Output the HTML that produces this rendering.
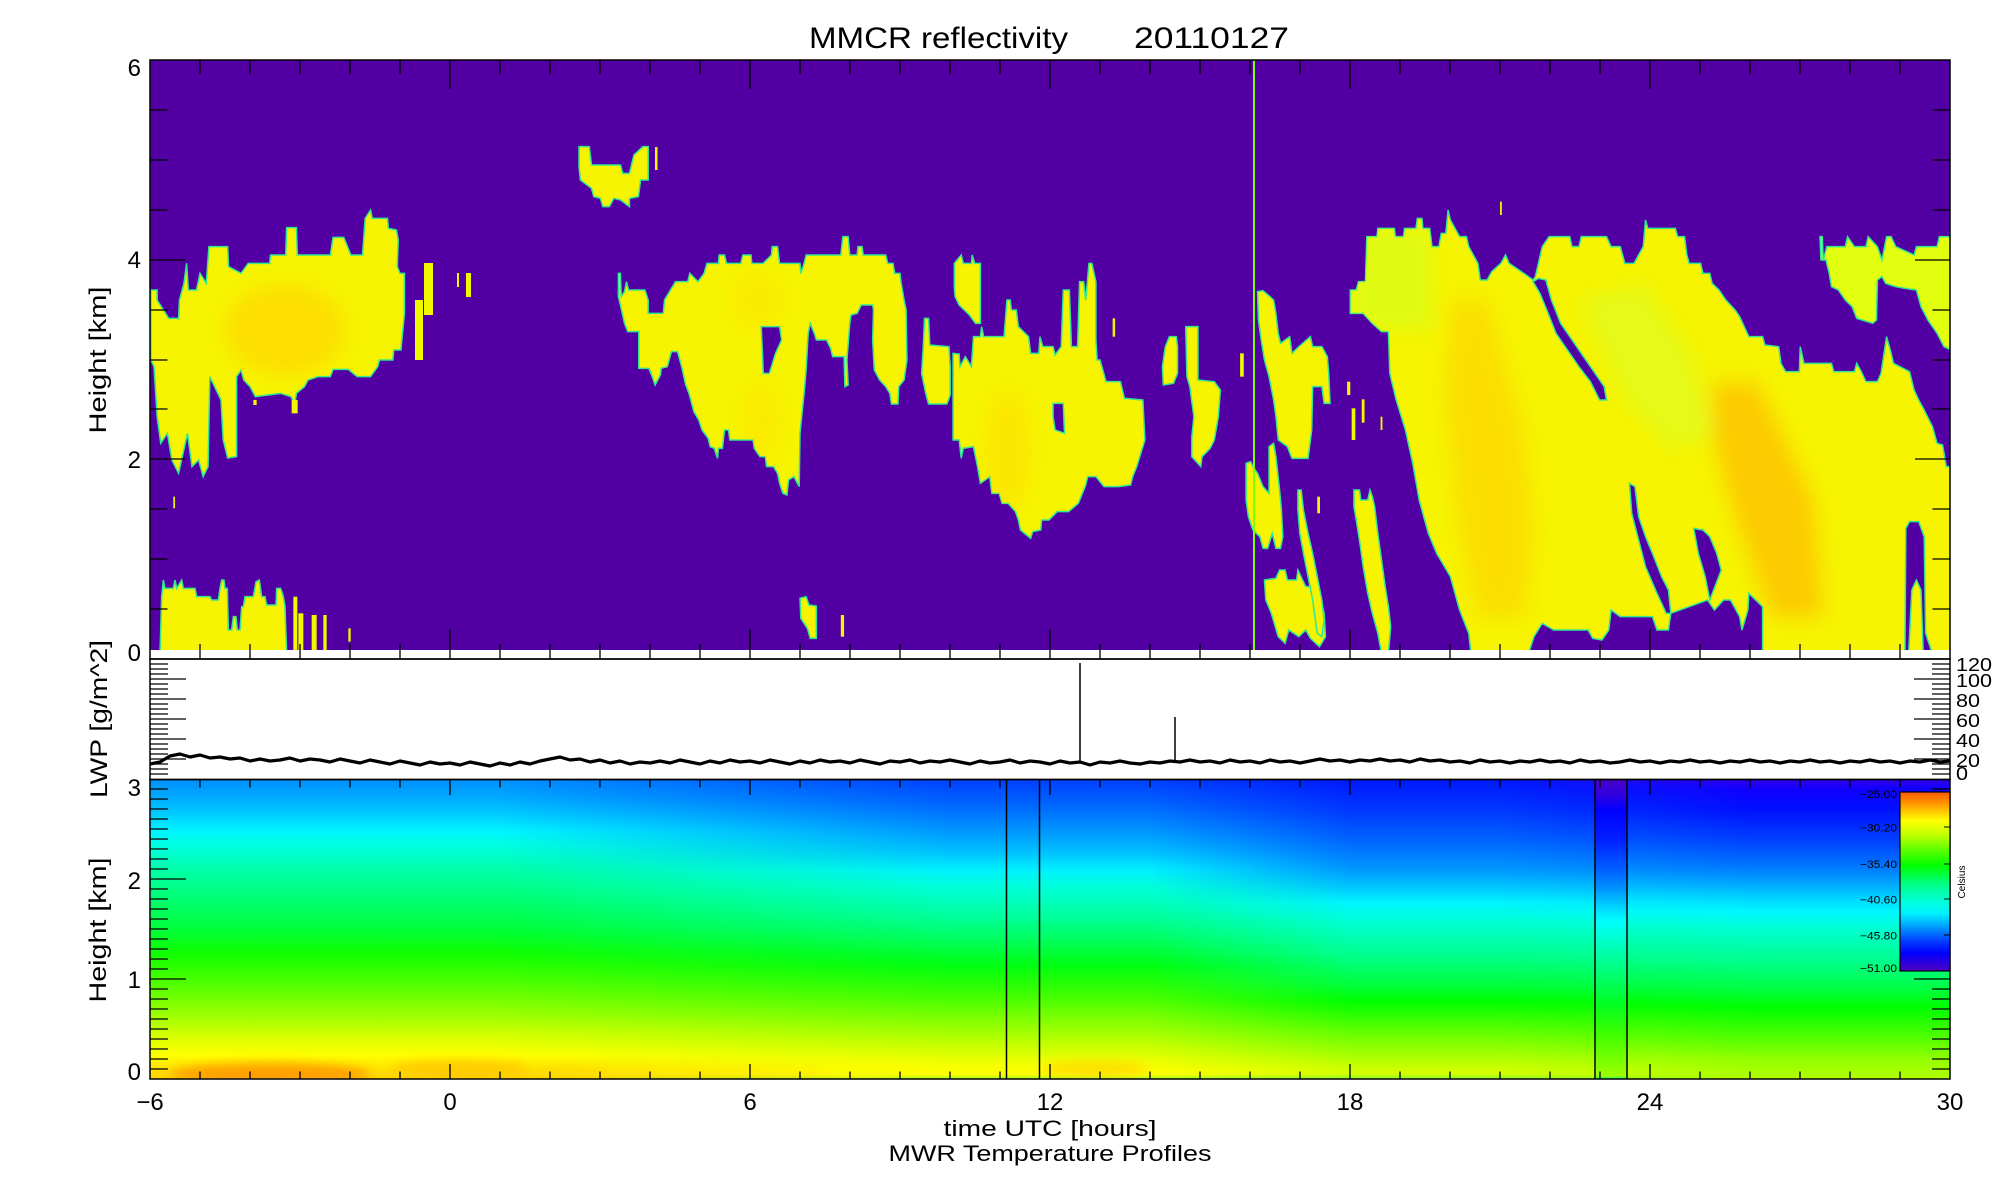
<!DOCTYPE html>
<html><head><meta charset="utf-8"><style>html,body{margin:0;padding:0;background:#fff}svg{display:block}text{font-family:"Liberation Sans",sans-serif;fill:#000}</style></head><body>
<svg xmlns="http://www.w3.org/2000/svg" xmlns:xlink="http://www.w3.org/1999/xlink" width="2000" height="1200" viewBox="0 0 2000 1200">
<defs>
<clipPath id="mclip"><rect x="150" y="60" width="1800" height="590"/></clipPath>
<clipPath id="tclip"><rect x="150" y="780" width="1800" height="299"/></clipPath>
<filter id="bl" x="-50%" y="-50%" width="200%" height="200%"><feGaussianBlur stdDeviation="10"/></filter>
<filter id="bl2" x="-50%" y="-50%" width="200%" height="200%"><feGaussianBlur stdDeviation="5"/></filter>
<polygon id="cA" vector-effect="non-scaling-stroke" transform="scale(0.44643,0.33333)" points="338,870 352,870 352,900 378,955 400,955 402,900 412,850 418,790 422,870 440,870 448,820 462,850 468,740 510,740 512,800 540,820 556,790 604,790 606,765 640,765 642,683 664,683 666,765 740,765 746,712 770,712 786,765 812,765 818,655 830,630 834,655 868,655 870,685 888,690 892,720 890,800 896,820 906,820 906,940 898,1050 882,1050 880,1080 850,1080 846,1100 830,1130 800,1130 780,1108 746,1108 740,1130 712,1130 690,1140 682,1160 664,1180 660,1215 652,1190 628,1180 572,1190 560,1160 546,1140 540,1110 530,1130 530,1370 510,1374 500,1320 495,1200 470,1130 466,1400 455,1430 445,1380 430,1400 420,1300 400,1420 385,1380 375,1300 360,1330 352,1250 345,1100 338,1080"/>
<polygon id="cB" vector-effect="non-scaling-stroke" transform="scale(0.44643,0.33333)" points="1297,440 1320,440 1325,495 1390,495 1395,520 1410,520 1420,465 1440,440 1452,440 1452,540 1435,540 1430,590 1410,595 1410,620 1390,600 1375,595 1365,620 1350,620 1345,595 1330,590 1325,565 1300,540 1297,500"/>
<polygon id="cL" vector-effect="non-scaling-stroke" transform="translate(150,400) scale(0.33333,0.33333)" points="35,590 40,540 45,565 70,565 75,540 80,565 95,540 100,565 135,565 140,590 180,590 185,600 205,600 210,565 215,540 222,540 225,565 232,565 235,690 245,690 250,650 258,650 262,690 270,690 275,620 280,620 285,590 310,590 318,545 328,540 335,590 345,590 350,615 378,615 380,565 392,565 400,590 405,620 410,760 30,760"/>
<polygon id="cC" vector-effect="non-scaling-stroke" transform="translate(600,200) scale(0.40816,0.33333)" points="45,220 50,220 52,290 60,275 65,245 70,270 110,270 118,300 118,340 155,340 158,300 185,245 215,245 220,220 240,245 255,220 262,190 290,190 292,165 305,165 310,190 345,190 350,165 370,165 372,190 400,190 420,165 422,140 435,140 440,190 490,190 492,220 500,190 505,165 590,165 595,110 608,110 612,165 630,165 632,140 642,140 645,165 700,165 705,190 718,190 722,220 735,220 738,250 745,300 750,330 752,480 745,540 732,560 730,612 714,612 710,580 700,560 685,540 672,510 668,420 670,330 668,315 640,315 630,340 615,345 612,370 605,480 608,555 600,560 598,470 570,470 565,445 555,420 530,420 525,400 515,370 510,400 505,510 500,580 495,640 490,700 488,860 475,830 462,840 458,885 448,880 440,850 435,820 425,800 408,800 405,770 392,770 378,745 375,720 318,720 315,690 305,690 300,745 290,745 288,775 280,745 270,740 265,715 250,690 242,660 230,635 218,580 210,555 200,500 190,455 175,455 165,500 150,505 148,525 135,555 128,530 120,505 95,505 95,395 68,395 60,370 50,315 45,290"/>
<polygon id="cD" vector-effect="non-scaling-stroke" transform="translate(600,200) scale(0.40816,0.33333)" points="865,460 880,462 882,500 895,470 910,500 915,410 932,410 935,380 940,410 990,410 997,300 1005,300 1008,330 1020,330 1025,380 1050,410 1055,460 1075,460 1078,410 1085,440 1110,440 1115,465 1130,440 1135,270 1150,270 1155,440 1170,440 1175,245 1185,245 1190,300 1198,190 1205,190 1215,245 1215,420 1218,480 1225,480 1240,545 1275,545 1285,595 1330,600 1335,720 1325,760 1315,800 1305,830 1300,855 1270,860 1235,860 1215,830 1195,830 1190,855 1172,910 1148,935 1120,935 1100,960 1082,960 1080,990 1060,995 1055,1015 1030,990 1025,960 1018,935 1000,910 985,910 978,880 960,880 955,830 932,850 925,800 915,740 890,745 885,775 880,720 865,720"/>
<polygon id="cF" vector-effect="non-scaling-stroke" transform="translate(1230,200) scale(0.45914,0.33333)" points="262,340 262,270 275,270 280,245 295,245 298,110 320,110 322,85 358,85 360,110 378,110 380,85 405,85 408,55 418,55 420,85 435,85 440,140 455,140 460,100 470,100 475,30 480,60 500,110 515,110 520,140 540,190 545,240 560,240 570,215 590,190 600,165 608,190 640,220 660,240 665,230 680,140 695,110 740,110 745,140 760,140 765,110 820,110 830,140 850,140 860,190 880,190 900,140 905,60 910,85 970,85 975,110 990,110 995,165 1000,190 1025,190 1030,220 1045,220 1050,250 1065,270 1080,300 1100,330 1110,350 1130,410 1160,410 1165,435 1195,440 1200,490 1210,515 1240,515 1242,440 1250,490 1310,490 1315,515 1360,515 1365,490 1375,515 1385,545 1410,545 1418,520 1430,410 1440,460 1445,490 1480,515 1490,570 1500,600 1510,625 1530,680 1540,730 1552,735 1560,800 1570,800 1570,1360 525,1360 520,1300 500,1230 480,1130 450,1060 432,1000 412,900 398,790 382,690 362,600 348,520 345,395 330,395 310,370 290,340"/>
<clipPath id="clA"><use xlink:href="#cA"/></clipPath>
<clipPath id="clC"><use xlink:href="#cC"/></clipPath>
<clipPath id="clD"><use xlink:href="#cD"/></clipPath>
<clipPath id="clF"><use xlink:href="#cF"/></clipPath>
<linearGradient id="P1" gradientUnits="userSpaceOnUse" x1="0" y1="780" x2="0" y2="1079">
<stop offset="0" stop-color="#0090ff"/><stop offset="0.06" stop-color="#00aaff"/><stop offset="0.12" stop-color="#00d0ff"/><stop offset="0.17" stop-color="#00f4ff"/><stop offset="0.22" stop-color="#00ffe0"/><stop offset="0.30" stop-color="#00ffa8"/><stop offset="0.40" stop-color="#00ff70"/><stop offset="0.50" stop-color="#00ff38"/><stop offset="0.58" stop-color="#10ff00"/><stop offset="0.68" stop-color="#50ff00"/><stop offset="0.78" stop-color="#98ff00"/><stop offset="0.86" stop-color="#d8ff00"/><stop offset="0.92" stop-color="#ffff00"/><stop offset="0.97" stop-color="#ffe000"/><stop offset="1" stop-color="#ffd000"/></linearGradient>
<linearGradient id="P2" gradientUnits="userSpaceOnUse" x1="0" y1="780" x2="0" y2="1079">
<stop offset="0" stop-color="#0040ff"/><stop offset="0.08" stop-color="#0064ff"/><stop offset="0.16" stop-color="#0090ff"/><stop offset="0.24" stop-color="#00c0ff"/><stop offset="0.30" stop-color="#00f0ff"/><stop offset="0.36" stop-color="#00ffd8"/><stop offset="0.45" stop-color="#00ffa0"/><stop offset="0.54" stop-color="#00ff58"/><stop offset="0.62" stop-color="#00ff10"/><stop offset="0.72" stop-color="#40ff00"/><stop offset="0.82" stop-color="#90ff00"/><stop offset="0.90" stop-color="#d0ff00"/><stop offset="0.95" stop-color="#f4ff00"/><stop offset="0.985" stop-color="#ffff00"/><stop offset="1" stop-color="#a0ff20"/></linearGradient>
<linearGradient id="P3" gradientUnits="userSpaceOnUse" x1="0" y1="780" x2="0" y2="1079">
<stop offset="0" stop-color="#0018ff"/><stop offset="0.1" stop-color="#0038ff"/><stop offset="0.2" stop-color="#0064ff"/><stop offset="0.3" stop-color="#0098ff"/><stop offset="0.36" stop-color="#00c8ff"/><stop offset="0.41" stop-color="#00f4ff"/><stop offset="0.48" stop-color="#00ffd0"/><stop offset="0.58" stop-color="#00ff90"/><stop offset="0.68" stop-color="#00ff40"/><stop offset="0.74" stop-color="#00ff00"/><stop offset="0.84" stop-color="#60ff00"/><stop offset="0.93" stop-color="#b0ff00"/><stop offset="0.98" stop-color="#d8ff00"/><stop offset="1" stop-color="#90ff20"/></linearGradient>
<linearGradient id="P4" gradientUnits="userSpaceOnUse" x1="0" y1="780" x2="0" y2="1079">
<stop offset="0" stop-color="#3000f0"/><stop offset="0.03" stop-color="#1000ff"/><stop offset="0.1" stop-color="#0010ff"/><stop offset="0.2" stop-color="#0040ff"/><stop offset="0.28" stop-color="#0070ff"/><stop offset="0.34" stop-color="#00a0ff"/><stop offset="0.39" stop-color="#00d0ff"/><stop offset="0.44" stop-color="#00f8ff"/><stop offset="0.5" stop-color="#00ffd0"/><stop offset="0.6" stop-color="#00ff90"/><stop offset="0.7" stop-color="#00ff40"/><stop offset="0.76" stop-color="#00ff00"/><stop offset="0.86" stop-color="#50ff00"/><stop offset="0.94" stop-color="#98ff00"/><stop offset="1" stop-color="#b0ff00"/></linearGradient>
<linearGradient id="P5" gradientUnits="userSpaceOnUse" x1="0" y1="780" x2="0" y2="1079">
<stop offset="0" stop-color="#4800c8"/><stop offset="0.05" stop-color="#3000e0"/><stop offset="0.1" stop-color="#0000ff"/><stop offset="0.2" stop-color="#0020ff"/><stop offset="0.3" stop-color="#0060ff"/><stop offset="0.36" stop-color="#0090ff"/><stop offset="0.42" stop-color="#00d0ff"/><stop offset="0.47" stop-color="#00ffff"/><stop offset="0.55" stop-color="#00ffc0"/><stop offset="0.65" stop-color="#00ff70"/><stop offset="0.75" stop-color="#00ff20"/><stop offset="0.85" stop-color="#40ff00"/><stop offset="0.95" stop-color="#80ff00"/><stop offset="0.99" stop-color="#a0ff00"/><stop offset="1" stop-color="#00ff80"/></linearGradient>
<linearGradient id="g2" gradientUnits="userSpaceOnUse" x1="500" y1="0" x2="950" y2="0"><stop offset="0" stop-color="#000"/><stop offset="1" stop-color="#fff"/></linearGradient>
<linearGradient id="g3" gradientUnits="userSpaceOnUse" x1="1150" y1="0" x2="1350" y2="0"><stop offset="0" stop-color="#000"/><stop offset="1" stop-color="#fff"/></linearGradient>
<linearGradient id="g4" gradientUnits="userSpaceOnUse" x1="1500" y1="0" x2="1750" y2="0"><stop offset="0" stop-color="#000"/><stop offset="1" stop-color="#fff"/></linearGradient>
<mask id="m2" maskUnits="userSpaceOnUse" x="0" y="0" width="2000" height="1200"><rect x="150" y="780" width="1800" height="300" fill="url(#g2)"/></mask>
<mask id="m3" maskUnits="userSpaceOnUse" x="0" y="0" width="2000" height="1200"><rect x="150" y="780" width="1800" height="300" fill="url(#g3)"/></mask>
<mask id="m4" maskUnits="userSpaceOnUse" x="0" y="0" width="2000" height="1200"><rect x="150" y="780" width="1800" height="300" fill="url(#g4)"/></mask>
<linearGradient id="CB" x1="0" y1="0" x2="0" y2="1">
<stop offset="0" stop-color="#ff5a00"/><stop offset="0.06" stop-color="#ff9000"/><stop offset="0.13" stop-color="#ffe000"/><stop offset="0.16" stop-color="#ffff00"/><stop offset="0.24" stop-color="#c0ff00"/><stop offset="0.32" stop-color="#60ff00"/><stop offset="0.41" stop-color="#00ff00"/><stop offset="0.51" stop-color="#00ff80"/><stop offset="0.62" stop-color="#00ffe0"/><stop offset="0.68" stop-color="#00f0ff"/><stop offset="0.75" stop-color="#00a0ff"/><stop offset="0.83" stop-color="#0040ff"/><stop offset="0.9" stop-color="#0000ff"/><stop offset="1" stop-color="#5000c0"/></linearGradient>
</defs>

<rect x="0" y="0" width="2000" height="1200" fill="#fff"/>

<!-- MMCR panel -->
<g clip-path="url(#mclip)">
<rect x="150" y="60" width="1800" height="590" fill="#5200a3"/>
<g fill="#f6f400" stroke="#30e890" stroke-width="1.5">
<use xlink:href="#cA"/><use xlink:href="#cB"/><use xlink:href="#cL"/><use xlink:href="#cC"/><use xlink:href="#cD"/><use xlink:href="#cF"/>
<g transform="translate(600,200) scale(0.40816,0.33333)">
<polygon vector-effect="non-scaling-stroke" points="868,190 885,165 890,190 910,190 912,165 918,190 932,190 932,370 920,370 905,345 880,315 870,290 868,260"/>
<polygon vector-effect="non-scaling-stroke" points="795,355 805,355 808,435 855,440 858,500 858,585 850,612 805,612 798,580 788,520 792,440"/>
<polygon vector-effect="non-scaling-stroke" points="1378,500 1385,440 1395,410 1412,410 1415,440 1415,520 1405,550 1380,555"/>
<polygon vector-effect="non-scaling-stroke" points="1435,380 1465,380 1465,540 1505,545 1520,570 1515,650 1505,720 1495,745 1475,770 1472,800 1450,770 1450,710 1455,650 1445,560 1438,530"/>
<polygon vector-effect="non-scaling-stroke" points="490,1195 505,1190 512,1215 530,1218 530,1315 515,1315 508,1285 492,1255"/>
</g>
<g transform="translate(1230,200) scale(0.45914,0.33333)">
<polygon vector-effect="non-scaling-stroke" points="60,275 72,272 95,300 100,340 105,400 110,430 130,410 135,460 150,440 175,410 180,440 200,440 212,470 215,520 218,610 205,610 200,560 180,560 178,690 170,775 135,775 125,740 105,720 100,650 95,600 85,530 75,480 68,420 62,360"/>
<polygon vector-effect="non-scaling-stroke" points="35,790 45,785 50,800 60,820 72,860 85,880 85,740 95,730 100,770 108,870 112,930 115,1010 110,1045 100,1045 92,1000 82,1045 72,1045 65,1010 50,990 40,950 35,900"/>
<polygon vector-effect="non-scaling-stroke" points="75,1140 100,1135 108,1110 120,1110 125,1140 145,1140 148,1110 158,1140 165,1160 180,1160 185,1180 198,1200 205,1240 208,1310 195,1340 175,1315 165,1290 150,1310 128,1290 120,1330 105,1310 90,1240 78,1200"/>
<polygon vector-effect="non-scaling-stroke" points="148,870 155,870 160,930 170,1000 180,1060 190,1130 200,1200 205,1260 200,1310 190,1300 180,1200 170,1130 160,1060 152,1000 148,930"/>
<polygon vector-effect="non-scaling-stroke" points="270,870 282,870 285,900 300,900 305,870 310,890 315,920 322,1000 330,1080 338,1160 345,1220 350,1280 345,1360 330,1360 322,1300 310,1240 300,1180 290,1100 283,1030 275,960 270,920"/>
<polygon vector-effect="non-scaling-stroke" fill="#e2ff10" points="1285,110 1290,110 1292,180 1300,140 1340,140 1345,110 1360,140 1385,140 1390,110 1410,140 1420,180 1430,110 1440,110 1450,140 1490,165 1495,140 1540,140 1545,110 1570,110 1570,450 1555,440 1540,400 1520,360 1505,320 1495,270 1470,265 1450,260 1428,250 1420,230 1410,240 1408,360 1400,370 1365,355 1355,320 1340,300 1325,270 1310,260 1305,220 1298,180 1287,180"/>
</g>
</g>
<!-- small streak bits -->
<g fill="#f0f800">
<rect x="415" y="300" width="8" height="60"/><rect x="424" y="263" width="9" height="52"/><rect x="466" y="273" width="5" height="24"/><rect x="457" y="273" width="2" height="14"/><rect x="655" y="147" width="2.5" height="23"/>
<g transform="translate(150,400) scale(0.33333,0.33333)"><rect x="430" y="590" width="12" height="170"/><rect x="445" y="640" width="15" height="120"/><rect x="485" y="645" width="15" height="115"/><rect x="520" y="645" width="10" height="115"/><rect x="595" y="685" width="7" height="40"/><rect x="70" y="290" width="5" height="35"/><rect x="425" y="0" width="18" height="40"/><rect x="310" y="0" width="10" height="15"/></g>
<g transform="translate(600,200) scale(0.40816,0.33333)"><rect x="1256" y="355" width="6" height="55"/><rect x="590" y="1245" width="8" height="65"/></g>
<g transform="translate(1230,200) scale(0.45914,0.33333)"><rect x="255" y="545" width="7" height="40"/><rect x="265" y="625" width="8" height="95"/><rect x="287" y="598" width="6" height="70"/><rect x="328" y="650" width="4" height="40"/><rect x="190" y="890" width="6" height="50"/><rect x="22" y="460" width="8" height="70"/><rect x="588" y="5" width="4" height="40"/></g>
</g>
<!-- tints -->
<g clip-path="url(#clA)"><g filter="url(#bl)"><ellipse cx="285" cy="330" rx="60" ry="45" fill="#ffd400" opacity="0.7"/></g></g>
<g clip-path="url(#clC)"><g filter="url(#bl)"><ellipse cx="757" cy="300" rx="25" ry="28" fill="#ffe000" opacity="0.5"/><ellipse cx="762" cy="420" rx="18" ry="40" fill="#ffe000" opacity="0.5"/></g></g>
<g clip-path="url(#clD)"><g filter="url(#bl)"><ellipse cx="1008" cy="450" rx="22" ry="60" fill="#ffdc00" opacity="0.6"/></g></g>
<g clip-path="url(#clF)"><g filter="url(#bl)"><g transform="translate(1230,200) scale(0.45914,0.33333)">
<polygon points="480,300 560,300 640,700 660,1000 640,1250 540,1250 500,1000 470,600" fill="#ffcc00" opacity="0.55"/>
<polygon points="1050,550 1150,550 1270,900 1290,1250 1180,1250 1100,950 1050,700" fill="#ffb800" opacity="0.7"/>
<polygon points="760,300 900,250 1000,450 1060,700 960,750 860,600" fill="#d8ff30" opacity="0.5"/>
<polygon points="262,85 440,85 440,390 262,390" fill="#d0ff20" opacity="0.6"/>
</g></g></g>
<!-- holes -->
<g fill="#5200a3" stroke="#30e890" stroke-width="1.5">
<g transform="translate(600,200) scale(0.40816,0.33333)">
<polygon vector-effect="non-scaling-stroke" points="395,380 440,380 445,420 430,460 415,520 400,520 398,460"/>
<polygon vector-effect="non-scaling-stroke" points="1110,610 1135,610 1138,700 1115,690 1110,650"/>
</g>
<g transform="translate(1230,200) scale(0.45914,0.33333)">
<polygon vector-effect="non-scaling-stroke" points="660,245 672,235 688,240 700,300 720,370 745,420 770,470 795,520 815,560 820,600 805,600 785,545 760,500 735,450 710,400 690,330 675,280"/>
<polygon vector-effect="non-scaling-stroke" points="870,850 882,860 890,950 905,1010 920,1060 940,1130 955,1170 960,1240 950,1240 930,1180 905,1100 890,1020 875,940"/>
<polygon vector-effect="non-scaling-stroke" points="1010,985 1030,990 1045,1010 1060,1060 1070,1110 1045,1200 1035,1130 1020,1060"/>
<polygon vector-effect="non-scaling-stroke" points="650,1362 662,1310 680,1270 705,1290 780,1290 790,1315 810,1320 825,1290 830,1230 850,1250 920,1250 930,1290 955,1290 960,1240 1040,1200 1055,1230 1075,1200 1090,1200 1110,1250 1115,1290 1128,1230 1130,1180 1160,1220 1160,1362"/>
<polygon vector-effect="non-scaling-stroke" points="1470,1362 1472,985 1480,965 1500,965 1512,1010 1515,1300 1530,1362"/>
<polygon vector-effect="non-scaling-stroke" fill="#f6f400" points="1478,1362 1485,1170 1495,1140 1505,1170 1510,1362"/>
</g>
</g>
<line x1="1254" y1="60" x2="1254" y2="650" stroke="#80ff00" stroke-width="2"/>
</g>

<!-- Temperature panel -->
<g clip-path="url(#tclip)">
<rect x="150" y="780" width="1800" height="300" fill="url(#P1)"/>
<rect x="150" y="780" width="1800" height="300" fill="url(#P2)" mask="url(#m2)"/>
<rect x="150" y="780" width="1800" height="300" fill="url(#P3)" mask="url(#m3)"/>
<rect x="150" y="780" width="1800" height="300" fill="url(#P4)" mask="url(#m4)"/>
<g filter="url(#bl2)">
<ellipse cx="270" cy="1074" rx="100" ry="11" fill="#ff9a00" opacity="0.9"/>
<ellipse cx="460" cy="1069" rx="70" ry="9" fill="#ffc800" opacity="0.85"/>
<ellipse cx="570" cy="1072" rx="40" ry="6" fill="#ffd800" opacity="0.7"/>
<ellipse cx="1095" cy="1069" rx="55" ry="8" fill="#ffd800" opacity="0.8"/>
<ellipse cx="860" cy="1070" rx="40" ry="7" fill="#f8ff00" opacity="0.7"/>
</g>
<rect x="1596" y="780" width="31" height="300" fill="url(#P5)"/>
</g>
<path d="M1006.5 780V1079M1039.5 780V1079M1595 780V1079M1627 780V1079" stroke="#000" stroke-width="1.5" fill="none"/>

<!-- LWP line -->
<polyline fill="none" stroke="#000" stroke-width="3.2" stroke-linejoin="round" points="150,764 160,762 170,756 180,754 190,757 200,755 210,758 220,757 230,759 240,758 250,761 260,759 270,761 280,760 290,758 300,761 310,759 320,760 330,762 340,759 350,761 360,763 370,760 380,762 390,764 400,761 410,763 420,765 430,762 440,764 450,763 460,765 470,762 480,764 490,766 500,763 510,765 520,762 530,764 540,761 550,759 560,757 570,760 580,759 590,762 600,760 610,763 620,761 630,764 640,762 650,763 660,761 670,763 680,760 690,762 700,764 710,761 720,763 730,760 740,762 750,761 760,763 770,760 780,762 790,764 800,761 810,763 820,760 830,762 840,761 850,763 860,760 870,762 880,764 890,761 900,762 910,760 920,763 930,761 940,762 950,760 960,762 970,764 980,761 990,763 1000,762 1010,760 1020,763 1030,761 1040,762 1050,764 1060,761 1070,763 1080,762 1090,765 1100,762 1110,763 1120,761 1130,763 1140,764 1150,762 1160,763 1170,761 1180,762 1190,760 1200,762 1210,761 1220,763 1230,760 1240,762 1250,761 1260,763 1270,760 1280,762 1290,761 1300,763 1310,761 1320,759 1330,761 1340,760 1350,762 1360,760 1370,761 1380,759 1390,761 1400,760 1410,762 1420,759 1430,761 1440,760 1450,762 1460,761 1470,763 1480,760 1490,762 1500,761 1510,763 1520,761 1530,762 1540,760 1550,762 1560,761 1570,763 1580,760 1590,762 1600,761 1610,763 1620,762 1630,760 1640,762 1650,761 1660,763 1670,761 1680,762 1690,760 1700,762 1710,761 1720,763 1730,761 1740,762 1750,760 1760,762 1770,761 1780,763 1790,761 1800,762 1810,760 1820,762 1830,761 1840,763 1850,761 1860,762 1870,760 1880,762 1890,761 1900,763 1910,761 1920,762 1930,760 1940,762 1950,761"/>
<path d="M1080 663V763M1175 717V762" stroke="#000" stroke-width="1.5"/>

<!-- axes frames -->
<g fill="none" stroke="#000" stroke-width="1.5">
<rect x="150" y="60" width="1800" height="599"/>
<rect x="150" y="659" width="1800" height="120.5"/>
<rect x="150" y="779.5" width="1800" height="299.5"/>
</g>
<!-- ticks -->
<g stroke="#000" stroke-width="1.3" fill="none">
<path d="M200 60v14M250 60v14M300 60v14M350 60v14M400 60v14M450 60v29M500 60v14M550 60v14M600 60v14M650 60v14M700 60v14M750 60v29M800 60v14M850 60v14M900 60v14M950 60v14M1000 60v14M1050 60v29M1100 60v14M1150 60v14M1200 60v14M1250 60v14M1300 60v14M1350 60v29M1400 60v14M1450 60v14M1500 60v14M1550 60v14M1600 60v14M1650 60v29M1700 60v14M1750 60v14M1800 60v14M1850 60v14M1900 60v14"/>
<path d="M200 659v-15M250 659v-15M300 659v-15M350 659v-15M400 659v-15M450 659v-30M500 659v-15M550 659v-15M600 659v-15M650 659v-15M700 659v-15M750 659v-30M800 659v-15M850 659v-15M900 659v-15M950 659v-15M1000 659v-15M1050 659v-30M1100 659v-15M1150 659v-15M1200 659v-15M1250 659v-15M1300 659v-15M1350 659v-30M1400 659v-15M1450 659v-15M1500 659v-15M1550 659v-15M1600 659v-15M1650 659v-30M1700 659v-15M1750 659v-15M1800 659v-15M1850 659v-15M1900 659v-15"/>
<path d="M200 780v7.5M250 780v7.5M300 780v7.5M350 780v7.5M400 780v7.5M450 780v15M500 780v7.5M550 780v7.5M600 780v7.5M650 780v7.5M700 780v7.5M750 780v15M800 780v7.5M850 780v7.5M900 780v7.5M950 780v7.5M1000 780v7.5M1050 780v15M1100 780v7.5M1150 780v7.5M1200 780v7.5M1250 780v7.5M1300 780v7.5M1350 780v15M1400 780v7.5M1450 780v7.5M1500 780v7.5M1550 780v7.5M1600 780v7.5M1650 780v15M1700 780v7.5M1750 780v7.5M1800 780v7.5M1850 780v7.5M1900 780v7.5"/>
<path d="M200 1079v-7.5M250 1079v-7.5M300 1079v-7.5M350 1079v-7.5M400 1079v-7.5M450 1079v-15M500 1079v-7.5M550 1079v-7.5M600 1079v-7.5M650 1079v-7.5M700 1079v-7.5M750 1079v-15M800 1079v-7.5M850 1079v-7.5M900 1079v-7.5M950 1079v-7.5M1000 1079v-7.5M1050 1079v-15M1100 1079v-7.5M1150 1079v-7.5M1200 1079v-7.5M1250 1079v-7.5M1300 1079v-7.5M1350 1079v-15M1400 1079v-7.5M1450 1079v-7.5M1500 1079v-7.5M1550 1079v-7.5M1600 1079v-7.5M1650 1079v-15M1700 1079v-7.5M1750 1079v-7.5M1800 1079v-7.5M1850 1079v-7.5M1900 1079v-7.5"/>
<path d="M150 609h17.5M150 559h17.5M150 509h17.5M150 459h35M150 409h17.5M150 360h17.5M150 310h17.5M150 260h35M150 210h17.5M150 160h17.5M150 110h17.5"/>
<path d="M1950 609h-17.5M1950 559h-17.5M1950 509h-17.5M1950 459h-35M1950 409h-17.5M1950 360h-17.5M1950 310h-17.5M1950 260h-35M1950 210h-17.5M1950 160h-17.5M1950 110h-17.5"/>
<path d="M150 774h18M150 769h18M150 764h18M150 759h36M150 754h18M150 749h18M150 744h18M150 739h36M150 734h18M150 729h18M150 724h18M150 719h36M150 714h18M150 709h18M150 704h18M150 699h36M150 694h18M150 689h18M150 684h18M150 679h36M150 674h18M150 669h18M150 664h18"/>
<path d="M1950 774h-18M1950 769h-18M1950 764h-18M1950 759h-36M1950 754h-18M1950 749h-18M1950 744h-18M1950 739h-36M1950 734h-18M1950 729h-18M1950 724h-18M1950 719h-36M1950 714h-18M1950 709h-18M1950 704h-18M1950 699h-36M1950 694h-18M1950 689h-18M1950 684h-18M1950 679h-36M1950 674h-18M1950 669h-18M1950 664h-18"/>
<path d="M150 1069h18M150 1059h18M150 1049h18M150 1039h18M150 1029h18M150 1019h18M150 1009h18M150 999h18M150 989h18M150 979h36M150 969h18M150 959h18M150 949h18M150 939h18M150 929h18M150 919h18M150 909h18M150 899h18M150 889h18M150 879h36M150 869h18M150 859h18M150 849h18M150 839h18M150 829h18M150 819h18M150 809h18M150 799h18M150 789h18"/>
<path d="M1950 1069h-18M1950 1059h-18M1950 1049h-18M1950 1039h-18M1950 1029h-18M1950 1019h-18M1950 1009h-18M1950 999h-18M1950 989h-18M1950 979h-36M1950 969h-18M1950 959h-18M1950 949h-18M1950 939h-18M1950 929h-18M1950 919h-18M1950 909h-18M1950 899h-18M1950 889h-18M1950 879h-36M1950 869h-18M1950 859h-18M1950 849h-18M1950 839h-18M1950 829h-18M1950 819h-18M1950 809h-18M1950 799h-18M1950 789h-18"/>
</g>

<!-- colorbar -->
<rect x="1900" y="792" width="50" height="179" fill="url(#CB)" stroke="#000" stroke-width="1.2"/>
<path d="M1944 827h6M1944 864h6M1944 899h6M1944 935h6" stroke="#000" stroke-width="1"/>
<g font-size="11" text-anchor="end">
<text x="1897" y="798" textLength="37" lengthAdjust="spacingAndGlyphs">−25.00</text>
<text x="1897" y="831.5" textLength="37" lengthAdjust="spacingAndGlyphs">−30.20</text>
<text x="1897" y="868" textLength="37" lengthAdjust="spacingAndGlyphs">−35.40</text>
<text x="1897" y="903.5" textLength="37" lengthAdjust="spacingAndGlyphs">−40.60</text>
<text x="1897" y="939.5" textLength="37" lengthAdjust="spacingAndGlyphs">−45.80</text>
<text x="1897" y="972" textLength="37" lengthAdjust="spacingAndGlyphs">−51.00</text>
</g>
<text transform="translate(1965,882) rotate(-90)" font-size="10" text-anchor="middle" textLength="33" lengthAdjust="spacingAndGlyphs">Celsius</text>

<!-- text -->
<text x="809" y="48" font-size="30" textLength="259" lengthAdjust="spacingAndGlyphs">MMCR reflectivity</text>
<text x="1134" y="48" font-size="30" textLength="155" lengthAdjust="spacingAndGlyphs">20110127</text>
<g font-size="24" text-anchor="end">
<text x="141" y="76">6</text><text x="141" y="268">4</text><text x="141" y="468">2</text><text x="141" y="661">0</text>
<text x="141" y="796">3</text><text x="141" y="889">2</text><text x="141" y="988">1</text><text x="141" y="1080">0</text>
</g>
<g font-size="18">
<text x="1956" y="671" textLength="36" lengthAdjust="spacingAndGlyphs">120</text>
<text x="1956" y="687" textLength="36" lengthAdjust="spacingAndGlyphs">100</text>
<text x="1956" y="707" textLength="24" lengthAdjust="spacingAndGlyphs">80</text>
<text x="1956" y="727" textLength="24" lengthAdjust="spacingAndGlyphs">60</text>
<text x="1956" y="747" textLength="24" lengthAdjust="spacingAndGlyphs">40</text>
<text x="1956" y="767" textLength="24" lengthAdjust="spacingAndGlyphs">20</text>
<text x="1956" y="780" textLength="12" lengthAdjust="spacingAndGlyphs">0</text>
</g>
<g font-size="24" text-anchor="middle">
<text x="150" y="1110">−6</text><text x="450" y="1110">0</text><text x="750" y="1110">6</text><text x="1050" y="1110">12</text><text x="1350" y="1110">18</text><text x="1650" y="1110">24</text><text x="1950" y="1110">30</text>
</g>
<text transform="translate(106,360) rotate(-90)" font-size="24" text-anchor="middle" textLength="147" lengthAdjust="spacingAndGlyphs">Height [km]</text>
<text transform="translate(107,719) rotate(-90)" font-size="24" text-anchor="middle" textLength="158" lengthAdjust="spacingAndGlyphs">LWP [g/m^2]</text>
<text transform="translate(106,930) rotate(-90)" font-size="24" text-anchor="middle" textLength="145" lengthAdjust="spacingAndGlyphs">Height [km]</text>
<text x="1050" y="1136" font-size="22" text-anchor="middle" textLength="213" lengthAdjust="spacingAndGlyphs">time UTC [hours]</text>
<text x="1050" y="1161" font-size="22" text-anchor="middle" textLength="323" lengthAdjust="spacingAndGlyphs">MWR Temperature Profiles</text>
</svg>
</body></html>
